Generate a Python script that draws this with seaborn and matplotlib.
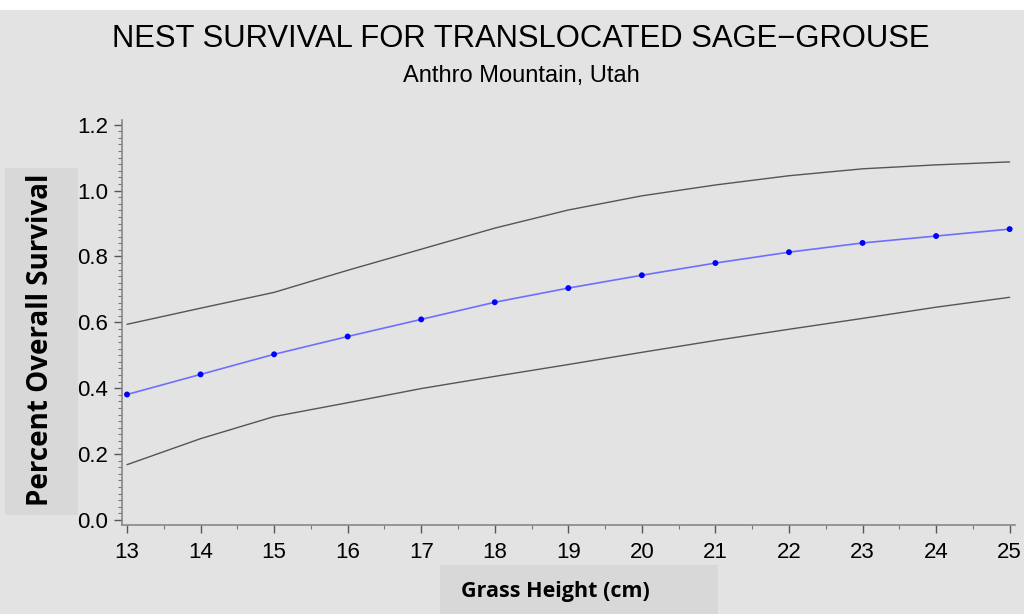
import matplotlib
matplotlib.use("Agg")
import matplotlib.pyplot as plt
import seaborn as sns
import pandas as pd
from matplotlib.patches import Rectangle
from matplotlib.ticker import MultipleLocator, FormatStrFormatter

# values
grass_height = [13, 14, 15, 16, 17, 18, 19, 20, 21, 22, 23, 24, 25]
survival = [0.381, 0.442, 0.503, 0.557, 0.609, 0.661, 0.704, 0.743, 0.780, 0.813, 0.841, 0.862, 0.883]
upper_ci = [0.594, 0.643, 0.691, 0.758, 0.822, 0.886, 0.941, 0.984, 1.017, 1.045, 1.066, 1.078, 1.087]
lower_ci = [0.168, 0.247, 0.314, 0.356, 0.399, 0.436, 0.472, 0.509, 0.545, 0.579, 0.612, 0.646, 0.676]

df = pd.DataFrame({"height": grass_height, "survival": survival,
                   "upper": upper_ci, "lower": lower_ci})

bg = "#e3e3e3"
sns.set_style("ticks")
plt.rcParams["font.family"] = ["Liberation Sans", "DejaVu Sans"]
plt.rcParams["text.color"] = "black"

fig = plt.figure(figsize=(10.24, 6.14), dpi=100)
fig.patch.set_facecolor("white")
fig.add_artist(Rectangle((0, 0), 1, 604 / 614, transform=fig.transFigure,
                         facecolor=bg, edgecolor="none", zorder=-10))

# axis labels in their own shaded boxes (behind the axes)
box = "#d8d8d8"
fig.add_artist(Rectangle((5 / 1024, 99 / 614), 73 / 1024, 347 / 614,
                         transform=fig.transFigure, facecolor=box,
                         edgecolor="none", zorder=-5))
fig.add_artist(Rectangle((440 / 1024, 0), 278 / 1024, 49 / 614,
                         transform=fig.transFigure, facecolor=box,
                         edgecolor="none", zorder=-5))

ax = fig.add_axes([0.119, 0.145, 0.872, 0.66])
ax.set_facecolor(bg)

sns.lineplot(data=df, x="height", y="upper", ax=ax, color="#555555", lw=1.0)
sns.lineplot(data=df, x="height", y="lower", ax=ax, color="#555555", lw=1.0)
sns.lineplot(data=df, x="height", y="survival", ax=ax, color="#6f6fff", lw=1.2)
sns.scatterplot(data=df, x="height", y="survival", ax=ax, color="#0000ff",
                s=18, edgecolor="none", zorder=5)

ax.set_xlim(12.93, 25.07)
ax.set_ylim(-0.015, 1.215)
ax.xaxis.set_major_locator(MultipleLocator(1))
ax.xaxis.set_minor_locator(MultipleLocator(0.5))
ax.yaxis.set_major_locator(MultipleLocator(0.2))
ax.yaxis.set_minor_locator(MultipleLocator(0.02))
ax.yaxis.set_major_formatter(FormatStrFormatter("%.1f"))
ax.tick_params(axis="both", which="major", length=6, width=1, color="#555555",
               labelsize=16, pad=4, labelcolor="black")
ax.tick_params(axis="x", which="major", pad=6)
ax.tick_params(axis="both", which="minor", length=3, width=0.8, color="#777777")
for side in ["top", "right"]:
    ax.spines[side].set_visible(False)
for side in ["left", "bottom"]:
    ax.spines[side].set_color("#888888")
    ax.spines[side].set_linewidth(1.2)
ax.set_xlabel("")
ax.set_ylabel("")

# titles
fig.text(0.509, 0.937, "NEST SURVIVAL FOR TRANSLOCATED SAGE\u2212GROUSE",
         ha="center", va="center", fontsize=22.3, color="black")
fig.text(0.509, 0.877, "Anthro Mountain, Utah", ha="center", va="center",
         fontsize=17, color="black")

fig.text(41 / 1024, 1 - 340 / 614, "Percent Overall Survival", rotation=90,
         ha="center", va="center", fontsize=20, fontweight="bold",
         family=["Open Sans", "DejaVu Sans"], color="black")
fig.text(555 / 1024, 1 - 592 / 614, "Grass Height (cm)", ha="center", va="center",
         fontsize=15.5, fontweight="bold", family=["Open Sans", "DejaVu Sans"],
         color="black")

fig.savefig("out.png", dpi=100, facecolor=fig.get_facecolor())
